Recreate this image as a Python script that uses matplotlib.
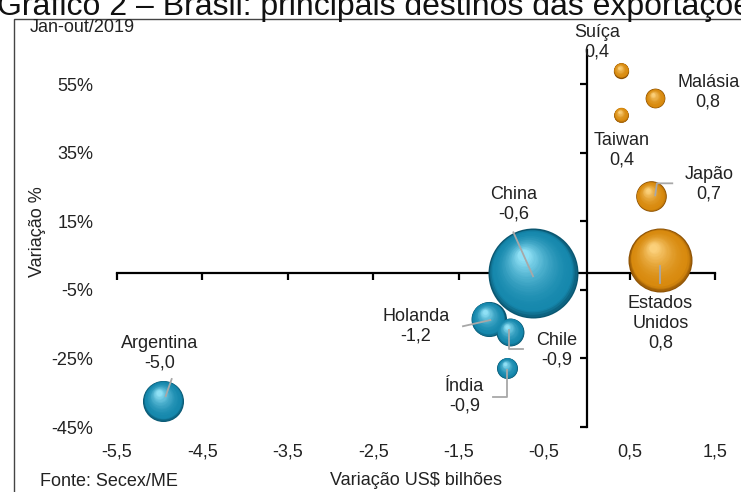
import numpy as np
import matplotlib
matplotlib.use("Agg")
import matplotlib.pyplot as plt
from matplotlib.colors import to_rgb
from matplotlib.patches import Rectangle
from matplotlib.transforms import offset_copy

plt.rcParams["font.family"] = ["Liberation Sans", "DejaVu Sans"]
plt.rcParams["font.size"] = 13

# data
paises = ["Suíça", "Malásia", "Taiwan", "Japão", "Estados\nUnidos",
          "China", "Holanda", "Chile", "Índia", "Argentina"]
var_bilhoes = [0.40, 0.80, 0.40, 0.75, 0.86, -0.63, -1.15, -0.90, -0.93, -4.96]
var_pct = [59.0, 50.9, 46.1, 22.3, 3.7, -0.1, -13.5, -17.3, -27.8, -37.4]
exportacoes = [1.5, 2.5, 1.4, 6.0, 26.3, 52.0, 7.9, 5.0, 2.8, 10.8]  # bubble size, US$ bi
rotulos = ["0,4", "0,8", "0,4", "0,7", "0,8", "-0,6", "-1,2", "-0,9", "-0,9", "-5,0"]

xticks = [-5.5, -4.5, -3.5, -2.5, -1.5, -0.5, 0.5, 1.5]
xticklabels = ["-5,5", "-4,5", "-3,5", "-2,5", "-1,5", "-0,5", "0,5", "1,5"]
yticks = [-45, -25, -5, 15, 35, 55]
yticklabels = ["-45%", "-25%", "-5%", "15%", "35%", "55%"]

# label placement (data coords) and leader lines
pos_rotulo = [(0.12, 67.2), (1.42, 52.6), (0.41, 35.7), (1.43, 25.8), (0.86, -14.7),
              (-0.86, 20.0), (-2.0, -15.6), (-0.35, -22.6), (-1.43, -36.0), (-5.0, -23.4)]
linhas = [
    None, None, None,
    [(1.00, 26.1), (0.82, 26.1), (0.80, 22.6)],
    [(0.86, 1.9), (0.86, -3.1)],
    [(-0.86, 11.8), (-0.63, -1.0)],
    [(-1.45, -15.6), (-1.13, -13.8)],
    [(-0.91, -16.6), (-0.91, -22.2), (-0.75, -22.2)],
    [(-0.93, -28.4), (-0.93, -36.3), (-1.10, -36.3)],
    [(-4.86, -31.0), (-4.93, -36.0)],
]

azul = ("#0a5670", "#1688ad", "#8fe0f5")
laranja = ("#8c5104", "#d88a0e", "#fbd07a")

fig = plt.figure(figsize=(7.41, 4.92), dpi=100)
ax = fig.add_axes([117 / 741, 65 / 492, 598 / 741, 377 / 492])
ax.set_xlim(-5.5, 1.5)
ax.set_ylim(-45, 65)

for s in ["top", "right"]:
    ax.spines[s].set_visible(False)
ax.spines["left"].set_position(("data", 0))
ax.spines["bottom"].set_position(("data", 0))
ax.spines["left"].set_linewidth(1.6)
ax.spines["bottom"].set_linewidth(1.6)
ax.set_xticks(xticks)
ax.set_yticks(yticks)
ax.tick_params(axis="both", direction="out", length=5, width=1.6,
               labelbottom=False, labelleft=False)

secx = ax.secondary_xaxis(0)
secx.set_xticks(xticks, labels=xticklabels)
secx.tick_params(length=0, pad=12, labelcolor="#222222")
secx.spines["bottom"].set_visible(False)
secx.set_xlabel("Variação US$ bilhões", labelpad=8, color="#222222")

secy = ax.secondary_yaxis(0)
secy.set_yticks(yticks, labels=yticklabels)
secy.tick_params(length=0, pad=17, labelcolor="#222222")
secy.spines["left"].set_visible(False)


def mix(c1, c2, t):
    a, b = np.array(to_rgb(c1)), np.array(to_rgb(c2))
    return tuple(a + (b - a) * t)


# shaded "3D" bubbles: stacked circles shifted toward the highlight
k = 80.75
n = 30
for i in range(len(paises)):
    x, y = var_bilhoes[i], var_pct[i]
    esc, base, luz = azul if x < 0 else laranja
    raio = np.sqrt(exportacoes[i] * k) / 2
    for j in range(n):
        f = 1 - j / n * 0.9
        t = j / (n - 1)
        if t < 0.12:
            cor = mix(esc, base, t / 0.12)
        else:
            cor = mix(base, luz, ((t - 0.12) / 0.88) ** 1.8)
        dx = -(1 - f) * raio * 0.25
        dy = (1 - f) * raio * 0.45
        tr = offset_copy(ax.transData, fig=fig, x=dx, y=dy, units="points")
        ax.scatter([x], [y], s=(2 * raio * f) ** 2, color=cor, lw=0,
                   transform=tr, zorder=3 + j * 0.01, clip_on=False)

for i in range(len(paises)):
    if linhas[i] is not None:
        lx, ly = zip(*linhas[i])
        ax.plot(lx, ly, color="#a8a8a8", lw=1.3, zorder=4, clip_on=False)
    px, py = pos_rotulo[i]
    ax.text(px, py, paises[i] + "\n" + rotulos[i], ha="center", va="center",
            multialignment="center", color="#222222", zorder=5,
            linespacing=1.2, clip_on=False)

fig.text(37 / 741, 1 - 232 / 492, "Variação %", rotation=90, ha="center",
         va="center", color="#222222")
fig.text(30 / 741, 1 - 28 / 492, "Jan-out/2019", ha="left", va="center",
         color="#222222")
fig.text(40 / 741, 1 - 481 / 492, "Fonte: Secex/ME", ha="left", va="center",
         color="#222222")
fig.text(-0.004, 1 - 15 / 492, "Gráfico 2 – Brasil: principais destinos das exportações",
         ha="left", va="baseline", fontsize=23, color="#111111")
fig.patches.append(Rectangle((14 / 741, -0.1), 2, 0.1 + 1 - 19 / 492, fill=False,
                             ec="#444444", lw=1, transform=fig.transFigure))

fig.savefig("out.png", dpi=100)
